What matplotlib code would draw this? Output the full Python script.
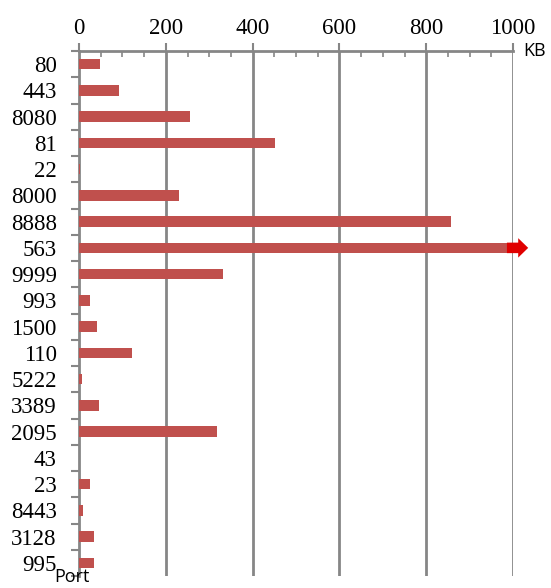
import numpy as np
import matplotlib
matplotlib.use('Agg')
import matplotlib.pyplot as plt
from matplotlib.ticker import MultipleLocator

# data (KB per port)
ports = ['80', '443', '8080', '81', '22', '8000', '8888', '563', '9999', '993',
         '1500', '110', '5222', '3389', '2095', '43', '23', '8443', '3128', '995']
kb = [48, 93, 256, 452, 2, 230, 856, 1200, 331, 25,
      41, 121, 8, 47, 319, 1, 25, 8.5, 34, 34]
x_ticks = [0, 200, 400, 600, 800, 1000]

bar_color = '#C0504D'
grid_color = '#868686'
x_max = 1000
bar_h = 0.4

fig = plt.figure(figsize=(5.51, 5.88), dpi=100)
ax = fig.add_axes([79/551, 12/588, 434/551, 525/588])

y = np.arange(len(ports))
cut = x_max - 14
shown = [min(v, cut) for v in kb]
ax.barh(y, shown, height=bar_h, color=bar_color, zorder=3)

# bars beyond the axis end get a red arrow
for yi, v in zip(y, kb):
    if v > x_max:
        px = [cut, 1012, 1012, 1035, 1012, 1012, cut]
        py = [yi - bar_h/2, yi - bar_h/2, yi - 0.37, yi, yi + 0.37, yi + bar_h/2, yi + bar_h/2]
        ax.fill(px, py, color='#E00000', lw=0, clip_on=False, zorder=4)

ax.set_xlim(0, x_max)
ax.set_ylim(len(ports) - 0.5, -0.5)

ax.xaxis.tick_top()
ax.set_xticks(x_ticks)
ax.xaxis.set_minor_locator(MultipleLocator(50))
ax.set_yticks(y)
ax.set_yticklabels(ports)
ax.set_yticks(np.arange(len(ports) + 1) - 0.5, minor=True)

serif = 'Liberation Serif'
for lab in ax.get_xticklabels() + ax.get_yticklabels():
    lab.set_fontfamily(serif)
    lab.set_fontsize(16.5)

ax.tick_params(axis='x', which='major', direction='out', length=6, width=1.5,
               color=grid_color, pad=3, top=True, bottom=False)
ax.tick_params(axis='x', which='minor', direction='in', length=4, width=1.2,
               color=grid_color, top=True, bottom=False)
ax.tick_params(axis='y', which='major', length=0, pad=16)
ax.tick_params(axis='y', which='minor', direction='out', length=6, width=1.5,
               color=grid_color)

for s in ['right', 'bottom']:
    ax.spines[s].set_visible(False)
for s in ['top', 'left']:
    ax.spines[s].set_color(grid_color)
    ax.spines[s].set_linewidth(2)

for xv in x_ticks[1:]:
    ax.axvline(xv, color=grid_color, lw=2, zorder=1)

fig.text(523/551, 1 - 51/588, 'KB', fontsize=13, family='Open Sans',
         ha='left', va='center')
fig.text(54/551, 1 - 586/588, 'Port', fontsize=13, family='Open Sans',
         ha='left', va='bottom')

fig.savefig('out.png', dpi=100)
